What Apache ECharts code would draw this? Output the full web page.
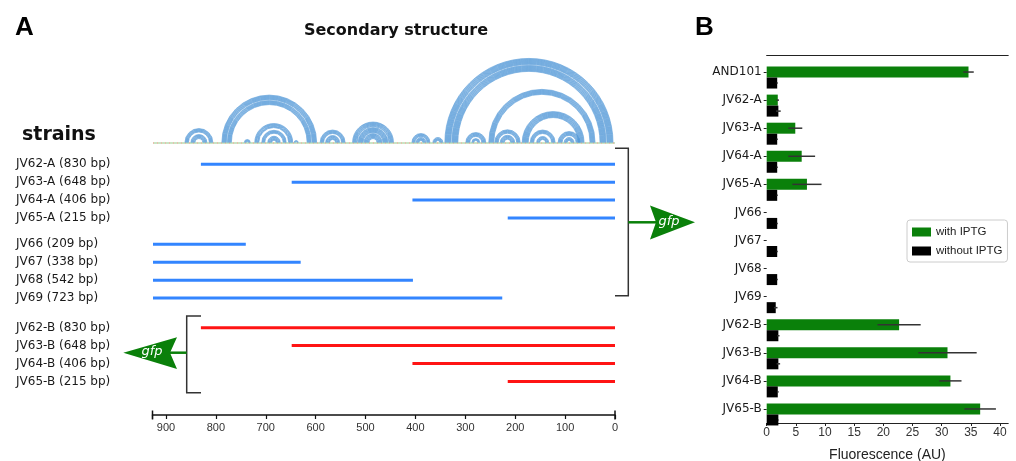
<!DOCTYPE html>
<html>
<head>
<meta charset="utf-8">
<script src="https://cdn.jsdelivr.net/npm/echarts@6/dist/echarts.min.js"></script>
<style>
  html, body { margin: 0; padding: 0; background: #fff; }
  #chart { width: 1016px; height: 461px; }
</style>
</head>
<body>
<div id="chart"></div>
<script>
// ---- Panel A: promoter fragments (positions in bp upstream of gfp) ----
const seqLength = 926;          // full upstream region
const bpAxisMax = 927;
const bpTickStep = 100;

const groupA = ['JV62-A', 'JV63-A', 'JV64-A', 'JV65-A'];
const lenA   = [830, 648, 406, 215];

const groupC = ['JV66', 'JV67', 'JV68', 'JV69'];
const lenC   = [209, 338, 542, 723];
const endC   = [740, 630, 405, 226];   // fragment end (bp) measured from gfp side

const groupB = ['JV62-B', 'JV63-B', 'JV64-B', 'JV65-B'];
const lenB   = [830, 648, 406, 215];

// Secondary structure helices: [outer left pos, outer right pos, stacked pairs]
const helices = [
  [862, 806, 8],  [850, 818, 9],
  [788, 598, 10], [777, 609, 9],
  [743, 731, 5],
  [722, 646, 9],  [708, 659, 7],  [696, 671, 9],
  [643, 635, 3],
  [591, 541, 8],  [580, 552, 9],
  [526, 444, 10], [515, 455, 11], [503, 467, 11],
  [407, 371, 7],  [399, 379, 7],
  [365, 345, 7],
  [341, 4, 13],   [327, 18, 13],
  [253, 40, 11],
  [186, 62, 13],
  [299, 259, 9],  [287, 271, 5],
  [241, 190, 8],  [230, 201, 9],
  [170, 120, 8],  [157, 133, 7],
  [114, 70, 9],   [102, 82, 7]
];

// ---- Panel B: fluorescence (AU) ----
const fluorStrains   = ['AND101', 'JV62-A', 'JV63-A', 'JV64-A', 'JV65-A', 'JV66', 'JV67', 'JV68', 'JV69', 'JV62-B', 'JV63-B', 'JV64-B', 'JV65-B'];
const withIPTG       = [34.6, 1.9, 4.9, 6.0, 6.9, 0, 0, 0, 0, 22.7, 31.0, 31.5, 36.6];
const withIPTGErr    = [0.9, 0.2, 1.2, 2.3, 2.5, 0, 0, 0, 0, 3.7, 5.0, 1.9, 2.7];
const withoutIPTG    = [1.8, 2.0, 1.8, 1.8, 1.8, 1.8, 1.8, 1.8, 1.55, 2.0, 2.0, 1.9, 2.0];
const withoutIPTGErr = [0.1, 0.4, 0.1, 0.1, 0.1, 0.1, 0.1, 0.1, 0.3, 0.2, 0.3, 0.15, 0.05];
const fluorMax = 41.4;
const fluorTickStep = 5;

// ---------------------------------------------------------------------
const BLUE = '#3385ff', RED = '#ff1414', GREEN = '#0a800a', ARC = '#5096d6';
const SANS = '"DejaVu Sans", sans-serif';
const ARIAL = '"Liberation Sans", Arial, sans-serif';
const BAR_W = 11;

const chart = echarts.init(document.getElementById('chart'), null, { renderer: 'canvas' });

// one arc per base pair, nested inward along each helix
const arcPairs = [];
helices.forEach(([l, r, n]) => {
  for (let k = 0; k < n; k++) arcPairs.push([l - k, r + k, 0]);
});

const rowLabels = (names, lens) => names.map((n, i) => `${n} (${lens[i]} bp)`);
const segA = lenA.map((l, i) => [l, 0, i]);
const segC = endC.map((e, i) => [seqLength, e, i]);
const segB = lenB.map((l, i) => [l, 0, i]);

function segmentRenderer(color) {
  return function (params, api) {
    const p1 = api.coord([api.value(0), api.value(2)]);
    const p2 = api.coord([api.value(1), api.value(2)]);
    return { type: 'line', shape: { x1: p1[0], y1: p1[1], x2: p2[0], y2: p2[1] },
             style: { stroke: color, lineWidth: 3, lineCap: 'butt' } };
  };
}

function errRenderer(offset) {
  return function (params, api) {
    const v = api.value(0), e = api.value(1), idx = api.value(2);
    if (!e) return null;
    const p1 = api.coord([v - e, idx]);
    const p2 = api.coord([v + e, idx]);
    return { type: 'line', shape: { x1: p1[0], y1: p1[1] + offset, x2: p2[0], y2: p2[1] + offset },
             style: { stroke: '#333', lineWidth: 1.5 } };
  };
}

const gridLeftA = 152.5, gridRightA = 1016 - 615;
const rowH = 71.7;
const hiddenBpAxis = (gi) => ({ type: 'value', gridIndex: gi, min: 0, max: bpAxisMax, inverse: true, show: false });
const strainAxis = (gi, data) => ({
  type: 'category', gridIndex: gi, inverse: true, data: data,
  axisLine: { show: false }, axisTick: { show: false },
  axisLabel: { align: 'left', margin: gridLeftA - 16, fontFamily: SANS, fontSize: 12, color: '#1a1a1a' }
});
const gridA = (top, height) => ({ left: gridLeftA, right: gridRightA, top: top, height: height, outerBoundsMode: 'none' });

const option = {
  animation: false,
  grid: [
    gridA(40, 103),       // arcs
    gridA(155.3, rowH),   // A fragments
    gridA(235.35, rowH),  // 5' fragments
    gridA(318.7, rowH),   // B fragments
    { left: 766.7, width: fluorMax * 5.8325, top: 58, height: 365, outerBoundsMode: 'none' } // fluorescence
  ],
  xAxis: [
    hiddenBpAxis(0), hiddenBpAxis(1), hiddenBpAxis(2),
    {
      type: 'value', gridIndex: 3, min: 0, max: bpAxisMax, interval: bpTickStep, inverse: true,
      position: 'bottom', offset: 24.6,
      axisLine: { show: true, lineStyle: { color: '#111', width: 1.5 } },
      axisTick: { show: true, length: 4, lineStyle: { color: '#111', width: 1.2 } },
      axisLabel: { margin: 7, fontFamily: ARIAL, fontSize: 11, color: '#333',
                   formatter: v => (v % bpTickStep === 0 ? String(v) : '') },
      splitLine: { show: false }
    },
    {
      type: 'value', gridIndex: 4, min: 0, max: fluorMax, interval: fluorTickStep,
      position: 'bottom',
      axisLine: { show: true, lineStyle: { color: '#222', width: 1.2 } },
      axisTick: { show: true, length: 3, lineStyle: { color: '#222' } },
      axisLabel: { margin: 4, fontFamily: ARIAL, fontSize: 12, color: '#333',
                   formatter: v => (v % fluorTickStep === 0 ? String(v) : ''), showMaxLabel: false },
      splitLine: { show: false },
      name: 'Fluorescence (AU)', nameLocation: 'middle', nameGap: 25,
      nameTextStyle: { fontFamily: ARIAL, fontSize: 14, color: '#222' }
    },
    {
      type: 'value', gridIndex: 4, min: 0, max: fluorMax, position: 'top', offset: 3,
      axisLine: { show: true, lineStyle: { color: '#222', width: 1.2 } },
      axisTick: { show: false }, axisLabel: { show: false }, splitLine: { show: false }
    }
  ],
  yAxis: [
    { type: 'value', gridIndex: 0, min: 0, max: 1, show: false },
    strainAxis(1, rowLabels(groupA, lenA)),
    strainAxis(2, rowLabels(groupC, lenC)),
    strainAxis(3, rowLabels(groupB, lenB)),
    {
      type: 'category', gridIndex: 4, inverse: true, data: fluorStrains,
      axisLine: { show: false },
      axisTick: { show: true, alignWithLabel: true, length: 3, lineStyle: { color: '#222' } },
      axisLabel: { margin: 5, fontFamily: SANS, fontSize: 12, color: '#1a1a1a' }
    }
  ],
  legend: {
    data: ['with IPTG', 'without IPTG'],
    orient: 'vertical', left: 907, top: 220,
    itemWidth: 19, itemHeight: 9, itemGap: 7,
    padding: [6, 5, 5, 5],
    borderColor: '#cccccc', borderWidth: 1, borderRadius: 3,
    icon: 'rect', selectedMode: false,
    textStyle: { fontFamily: ARIAL, fontSize: 11.5, color: '#222' }
  },
  series: [
    // RNA backbone
    {
      type: 'custom', xAxisIndex: 0, yAxisIndex: 0,
      data: [[seqLength, 0, 0]], encode: { x: [0, 1], y: 2 }, silent: true,
      renderItem: (params, api) => {
        const a = api.coord([api.value(0), 0]), b = api.coord([api.value(1), 0]);
        return { type: 'group', children: [
          { type: 'line', shape: { x1: a[0], y1: a[1], x2: b[0], y2: b[1] }, style: { stroke: '#b9dcb0', lineWidth: 1.5 } },
          { type: 'line', shape: { x1: a[0], y1: a[1], x2: b[0], y2: b[1] }, style: { stroke: '#f2b4a8', lineWidth: 1.5, lineDash: [1, 3] } }
        ] };
      }
    },
    // base-pair arcs
    {
      type: 'custom', xAxisIndex: 0, yAxisIndex: 0,
      data: arcPairs, encode: { x: [0, 1], y: 2 }, silent: true,
      renderItem: (params, api) => {
        const a = api.coord([api.value(0), 0]), b = api.coord([api.value(1), 0]);
        const r = Math.abs(b[0] - a[0]) / 2;
        return { type: 'arc',
                 shape: { cx: (a[0] + b[0]) / 2, cy: a[1] - 0.5, r: r, startAngle: Math.PI, endAngle: 2 * Math.PI, clockwise: true },
                 style: { stroke: ARC, lineWidth: 0.7, fill: 'none', opacity: 0.85 } };
      }
    },
    { type: 'custom', xAxisIndex: 1, yAxisIndex: 1, data: segA, encode: { x: [0, 1], y: 2 }, renderItem: segmentRenderer(BLUE), silent: true },
    { type: 'custom', xAxisIndex: 2, yAxisIndex: 2, data: segC, encode: { x: [0, 1], y: 2 }, renderItem: segmentRenderer(BLUE), silent: true },
    { type: 'custom', xAxisIndex: 3, yAxisIndex: 3, data: segB, encode: { x: [0, 1], y: 2 }, renderItem: segmentRenderer(RED), silent: true },

    // fluorescence bars; the empty first column keeps each green bar on its tick
    { name: 'spacer', type: 'bar', xAxisIndex: 4, yAxisIndex: 4, barWidth: BAR_W, barGap: '0%',
      data: fluorStrains.map(() => '-'), silent: true },
    { name: 'with IPTG', type: 'bar', xAxisIndex: 4, yAxisIndex: 4, barWidth: BAR_W, barGap: '0%', clip: false,
      itemStyle: { color: GREEN }, data: withIPTG, silent: true },
    { name: 'without IPTG', type: 'bar', xAxisIndex: 4, yAxisIndex: 4, barWidth: BAR_W, barGap: '0%', clip: false,
      itemStyle: { color: '#000' }, data: withoutIPTG, silent: true },
    { type: 'custom', xAxisIndex: 4, yAxisIndex: 4, z: 5, silent: true,
      data: withIPTG.map((v, i) => [v, withIPTGErr[i], i]), encode: { x: 0, y: 2 }, renderItem: errRenderer(0) },
    { type: 'custom', xAxisIndex: 4, yAxisIndex: 4, z: 5, silent: true,
      data: withoutIPTG.map((v, i) => [v, withoutIPTGErr[i], i]), encode: { x: 0, y: 2 }, renderItem: errRenderer(BAR_W) }
  ],
  graphic: [
    { type: 'text', x: 15, y: 27.5, style: { text: 'A', font: 'bold 26px "Liberation Sans", Arial', fill: '#000', verticalAlign: 'middle' } },
    { type: 'text', x: 695, y: 27.5, style: { text: 'B', font: 'bold 26px "Liberation Sans", Arial', fill: '#000', verticalAlign: 'middle' } },
    { type: 'text', x: 396, y: 31, style: { text: 'Secondary structure', font: 'bold 16px "DejaVu Sans"', fill: '#111', align: 'center', verticalAlign: 'middle' } },
    { type: 'text', x: 22, y: 135, style: { text: 'strains', font: 'bold 19px "DejaVu Sans"', fill: '#111', verticalAlign: 'middle' } },

    // end caps of the bp axis
    { type: 'line', shape: { x1: 152.5, y1: 410.5, x2: 152.5, y2: 419.5 }, style: { stroke: '#111', lineWidth: 1.5 } },
    { type: 'line', shape: { x1: 615, y1: 410.5, x2: 615, y2: 419.5 }, style: { stroke: '#111', lineWidth: 1.5 } },

    // bracket + gfp arrow for the A / 5' fragments (pointing right)
    { type: 'polyline', shape: { points: [[615, 148.3], [628.3, 148.3], [628.3, 295.7], [615, 295.7]] }, style: { stroke: '#333', lineWidth: 1.5, fill: 'none' } },
    { type: 'line', shape: { x1: 628.3, y1: 222.3, x2: 660, y2: 222.3 }, style: { stroke: GREEN, lineWidth: 2.5 } },
    { type: 'polygon', shape: { points: [[650, 205.5], [695, 222.3], [650, 239.5], [656, 222.3]] }, style: { fill: GREEN } },
    { type: 'text', x: 669, y: 222, style: { text: 'gfp', font: 'italic 13px "DejaVu Sans"', fill: '#fff', align: 'center', verticalAlign: 'middle' } },

    // bracket + gfp arrow for the B fragments (pointing left)
    { type: 'polyline', shape: { points: [[201, 316], [186.7, 316], [186.7, 392.7], [201, 392.7]] }, style: { stroke: '#333', lineWidth: 1.5, fill: 'none' } },
    { type: 'line', shape: { x1: 186.7, y1: 352.7, x2: 165, y2: 352.7 }, style: { stroke: GREEN, lineWidth: 2.5 } },
    { type: 'polygon', shape: { points: [[177, 337.3], [123.3, 352.7], [177, 369], [170, 352.7]] }, style: { fill: GREEN } },
    { type: 'text', x: 152, y: 352, style: { text: 'gfp', font: 'italic 13px "DejaVu Sans"', fill: '#fff', align: 'center', verticalAlign: 'middle' } }
  ]
};

chart.setOption(option);
</script>
</body>
</html>
